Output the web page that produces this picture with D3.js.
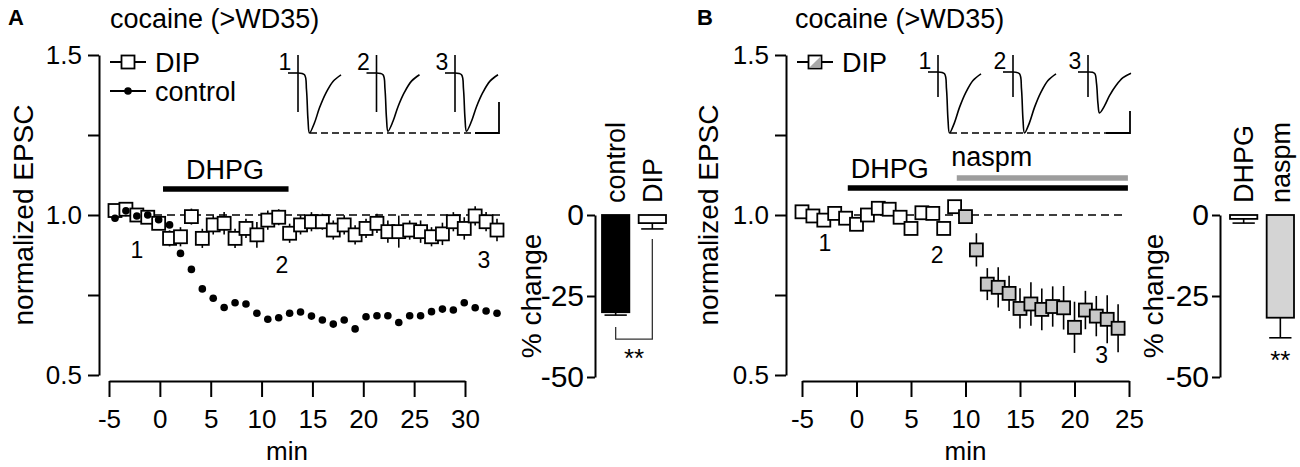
<!DOCTYPE html>
<html>
<head>
<meta charset="utf-8">
<script src="https://cdn.jsdelivr.net/npm/d3@7"></script>
<style>
  body { margin: 0; background: #fff; }
  svg text { font-family: "Liberation Sans", Arial, Helvetica, sans-serif; fill: #000; }
</style>
</head>
<body>
<svg id="fig" width="1300" height="467"></svg>
<script>
///////////////////// Data ////////////////////////
// panel A: time (min), normalized EPSC
var timeA = [-5,-4,-3,-2,-1,0,1,2,3,4,5,6,7,8,9,10,11,12,13,14,15,16,17,18,19,20,21,22,23,24,25,26,27,28,29,30];
var controlA = [0.99,1.013,0.997,1.0,0.985,0.969,0.88,0.83,0.769,0.74,0.711,0.726,0.722,0.693,0.674,0.679,0.693,0.697,
                0.684,0.672,0.659,0.672,0.644,0.682,0.685,0.685,0.664,0.685,0.685,0.698,0.706,0.703,0.726,0.71,0.70,0.693];
var dipA = [1.014,1.018,1.0,0.993,0.974,0.927,0.932,0.995,0.927,0.969,0.974,0.927,0.958,0.938,0.984,0.993,0.943,0.969,
            0.979,0.979,0.953,0.969,0.938,0.958,0.974,0.948,0.948,0.953,0.948,0.932,0.941,0.979,0.958,0.997,0.979,0.953];
var dipSemA = [0.02,0.022,0.02,0.02,0.02,0.025,0.03,0.025,0.03,0.03,0.035,0.03,0.03,0.04,0.03,0.025,0.03,0.03,
               0.03,0.025,0.03,0.03,0.03,0.03,0.03,0.035,0.05,0.03,0.035,0.03,0.035,0.03,0.035,0.03,0.03,0.035];
var dhpgA = [-0.6, 10.9];
var sampleTimeA = [-3, 10.3, 28.8];
var sampleYA = [0.89, 0.844, 0.86];
var traceAmpA = [1, 0.97, 0.97];

// panel B
var timeB = [-5,-4,-3,-2,-1,0,1,2,3,4,5,6,7,8,9,10,11,12,13,14,15,16,17,18,19,20,21,22,23,24];
var dipB = [1.01,0.997,0.984,1.005,0.99,0.971,1.0,1.021,1.018,0.993,0.958,1.007,1.005,0.958,1.026,
            0.995,0.891,0.784,0.774,0.755,0.708,0.722,0.705,0.714,0.71,0.649,0.703,0.684,0.674,0.646];
var dipSemB = [0.015,0.015,0.015,0.018,0.015,0.015,0.02,0.015,0.018,0.018,0.015,0.018,0.015,0.015,0.02,
               0.015,0.052,0.05,0.063,0.055,0.063,0.068,0.065,0.063,0.068,0.08,0.06,0.063,0.075,0.075];
var dhpgB = [-0.8, 24.9];
var naspmB = [9.2, 24.9];
var sampleTimeB = [-2.9, 7.4, 22.5];
var sampleYB = [0.912, 0.875, 0.5625];
var traceAmpB = [1, 1, 0.67];

// bar charts (% change)
var barCatsA = ["control", "DIP"];
var barValsA = [-30, -2.5];
var barSemA = [0.9, 1.8];
var barCatsB = ["DHPG", "naspm"];
var barValsB = [-1.2, -31.7];
var barSemB = [1.3, 6.2];

// EPSC trace template (ms after stim, fraction of peak)
var traceT = [0, 6.5, 8.5, 10, 11.5, 16.5, 21.5, 28, 35, 43];
var traceI = [0, -0.03, -0.28, -0.78, -1, -0.83, -0.58, -0.33, -0.14, -0.03];

var yTicksMain = [0.5, 0.75, 1, 1.25, 1.5];
var yTicksBar = [0, -25, -50];
var xTicksA = [-5, 0, 5, 10, 15, 20, 25, 30];
var xTicksB = [-5, 0, 5, 10, 15, 20, 25];
//////////////////////////////////////////////////

var svg = d3.select("#fig");
var grey = "#c8c8c8";
var sq = 13;
// plain hyphen for negatives, like the original
var plain = function (d) { return String(d); };

var styleAxis = function(sel, fs) {
    sel.selectAll("path, line").attr("stroke", "#000").attr("stroke-width", 2);
    sel.selectAll("text").attr("font-size", fs).attr("font-family", null);
    sel.attr("font-family", null);
}

/////////////// main time course panel ///////////////
var drawMain = function(p) {
    var g = svg.append("g");
    var y = d3.scaleLinear().domain([0.5, 1.5]).range([375, 55]);

    g.append("g").attr("transform", "translate(" + p.yAxisX + ",0)")
        .call(d3.axisLeft(y).tickValues(yTicksMain)
            .tickFormat(function (d) { return (d == 0.75 || d == 1.25) ? "" : d.toFixed(1); })
            .tickSize(11).tickSizeOuter(0).tickPadding(6))
        .call(styleAxis, 26);

    g.append("g").attr("transform", "translate(0,381)")
        .call(d3.axisBottom(p.xAxis).tickValues(p.xTicks).tickFormat(plain)
            .tickSize(16).tickSizeOuter(0).tickPadding(13))
        .call(styleAxis, 26);

    g.append("text").attr("x", d3.mean(p.xAxis.range())).attr("y", 460)
        .attr("text-anchor", "middle").attr("font-size", 26).text("min");

    g.append("text").attr("transform", "translate(" + p.ylabX + ",215) rotate(-90)")
        .attr("dy", "0.35em").attr("text-anchor", "middle").attr("font-size", 28).text("normalized EPSC");

    // title
    g.append("text").attr("x", p.letterX).attr("y", 25).attr("font-size", 22)
        .attr("font-weight", "bold").text(p.letter);
    g.append("text").attr("x", p.titleX).attr("y", 28).attr("font-size", 27).text("cocaine (>WD35)");

    // baseline
    var x = p.xData;
    g.append("line")
        .attr("x1", x(p.time[0])).attr("x2", x(p.time[p.time.length - 1]) + 8)
        .attr("y1", y(1)).attr("y2", y(1))
        .attr("stroke", "#000").attr("stroke-width", 1.6).attr("stroke-dasharray", "8,5");

    // drug bars
    p.drugs.forEach(function (d) {
        g.append("line").attr("x1", x(d.span[0])).attr("x2", x(d.span[1]))
            .attr("y1", d.y).attr("y2", d.y)
            .attr("stroke", d.color).attr("stroke-width", 5.5);
        g.append("text").attr("x", x(d.span[0]) + d.labelDx).attr("y", d.y - d.labelDy)
            .attr("text-anchor", d.anchor).attr("font-size", 27).text(d.name);
    });

    // error bars + squares
    g.selectAll(".err").data(p.dip).enter().append("line")
        .attr("x1", function (d, i) { return x(p.time[i]); })
        .attr("x2", function (d, i) { return x(p.time[i]); })
        .attr("y1", function (d, i) { return y(d + p.sem[i]); })
        .attr("y2", function (d, i) { return y(d - p.sem[i]); })
        .attr("stroke", "#000").attr("stroke-width", 1.6);

    g.selectAll(".sq").data(p.dip).enter().append("rect")
        .attr("x", function (d, i) { return x(p.time[i]) - sq / 2; })
        .attr("y", function (d) { return y(d) - sq / 2; })
        .attr("width", sq).attr("height", sq)
        .attr("fill", function (d, i) { return p.fillFn(p.time[i]); })
        .attr("stroke", "#000").attr("stroke-width", 1.8);

    if (p.control) {
        g.selectAll(".dot").data(p.control).enter().append("circle")
            .attr("cx", function (d, i) { return x(p.time[i]); })
            .attr("cy", function (d) { return y(d); })
            .attr("r", 3.8).attr("fill", "#000");
    }

    // sample labels 1 2 3
    g.selectAll(".smp").data(p.sampleT).enter().append("text")
        .attr("x", function (d) { return x(d); })
        .attr("y", function (d, i) { return y(p.sampleY[i]); })
        .attr("dy", "0.36em").attr("text-anchor", "middle").attr("font-size", 23)
        .text(function (d, i) { return i + 1; });

    // legend
    p.legend.forEach(function (L, i) {
        var ly = 62 + i * 29;
        g.append("line").attr("x1", L.x).attr("x2", L.x + 36).attr("y1", ly).attr("y2", ly)
            .attr("stroke", "#000").attr("stroke-width", 1.8);
        if (L.type == "dot") {
            g.append("circle").attr("cx", L.x + 18).attr("cy", ly).attr("r", 3.8).attr("fill", "#000");
        } else {
            g.append("rect").attr("x", L.x + 18 - sq / 2).attr("y", ly - sq / 2).attr("width", sq).attr("height", sq)
                .attr("fill", "#fff").attr("stroke", "#000").attr("stroke-width", 1.8);
            if (L.type == "half") {
                var c = L.x + 18, h = sq / 2 - 0.9;
                g.append("path").attr("d", "M" + (c + h) + "," + (ly - h) + "L" + (c + h) + "," + (ly + h) + "L" + (c - h) + "," + (ly + h) + "Z")
                    .attr("fill", "#a8a8a8");
            }
        }
        g.append("text").attr("x", L.x + 45).attr("y", ly).attr("dy", "0.36em")
            .attr("font-size", 27).text(L.name);
    });

    // inset EPSC traces
    var ins = p.inset;
    var ty = d3.scaleLinear().domain([-1, 0]).range([ins.base + ins.ampPx, ins.base]);
    p.traceAmp.forEach(function (amp, i) {
        var sx = ins.stim0 + i * ins.step;
        var tx = d3.scaleLinear().domain([0, 43]).range([sx, sx + 43]);
        var line = d3.line().x(function (d) { return tx(d); })
            .y(function (d, j) { return ty(traceI[j] * amp); })
            .curve(d3.curveCatmullRom);
        g.append("path").attr("d", line(traceT)).attr("fill", "none").attr("stroke", "#000").attr("stroke-width", 1.6);
        g.append("line").attr("x1", sx).attr("x2", sx).attr("y1", ins.artTop).attr("y2", ins.artBot)
            .attr("stroke", "#000").attr("stroke-width", 1.6);
        g.append("line").attr("x1", sx - 10).attr("x2", sx).attr("y1", ins.base).attr("y2", ins.base)
            .attr("stroke", "#000").attr("stroke-width", 1.6);
        g.append("text").attr("x", sx - 13).attr("y", ins.base - 11).attr("dy", "0.36em")
            .attr("text-anchor", "middle").attr("font-size", 23).text(i + 1);
    });
    var peakY = ty(-1);
    g.append("line").attr("x1", ins.stim0 + 12).attr("x2", ins.barX - 24).attr("y1", peakY).attr("y2", peakY)
        .attr("stroke", "#000").attr("stroke-width", 1.6).attr("stroke-dasharray", "7,4");
    g.append("path").attr("d", "M" + (ins.barX - 24) + "," + peakY + "H" + ins.barX + "V" + (peakY - ins.barH))
        .attr("fill", "none").attr("stroke", "#000").attr("stroke-width", 1.8);
}

/////////////// bar chart panel ///////////////
var drawBars = function(p) {
    var g = svg.append("g");
    var y = d3.scaleLinear().domain([-50, 0]).range([377, 215]);
    var x = d3.scaleBand().domain(p.cats).range(p.xRange).paddingInner(0.2);

    g.append("g").attr("transform", "translate(" + p.axisX + ",0)")
        .call(d3.axisLeft(y).tickValues(yTicksBar).tickFormat(plain)
            .tickSize(8).tickSizeOuter(0).tickPadding(3))
        .call(styleAxis, 30);

    g.append("text").attr("transform", "translate(" + p.labX + ",296) rotate(-90)")
        .attr("dy", "0.35em").attr("text-anchor", "middle").attr("font-size", 28).text("% change");

    var bw = x.bandwidth();
    p.vals.forEach(function (v, i) {
        var cx = x(p.cats[i]) + bw / 2;
        var low = y(v - p.sem[i]);
        g.append("line").attr("x1", cx).attr("x2", cx).attr("y1", y(v)).attr("y2", low)
            .attr("stroke", "#000").attr("stroke-width", 1.6);
        g.append("line").attr("x1", cx - bw * 0.38).attr("x2", cx + bw * 0.38).attr("y1", low).attr("y2", low)
            .attr("stroke", "#000").attr("stroke-width", 1.6);
        g.append("rect").attr("x", x(p.cats[i]) + 1).attr("y", y(0)).attr("width", bw - 2).attr("height", y(v) - y(0))
            .attr("fill", p.fills[i]).attr("stroke", "#000").attr("stroke-width", 1.8);
        g.append("text").attr("transform", "translate(" + cx + ",203) rotate(-90)")
            .attr("dy", "0.36em").attr("font-size", 27).text(p.cats[i]);
    });

    if (p.bracket) {
        var c0 = x(p.cats[0]) + bw / 2, c1 = x(p.cats[1]) + bw / 2;
        var b0 = y(p.vals[0] - p.sem[0]) + 12, b1 = y(p.vals[1] - p.sem[1]) + 10;
        g.append("path").attr("d", "M" + c0 + "," + b0 + "V" + (b0 + 12) + "H" + c1 + "V" + b1)
            .attr("fill", "none").attr("stroke", "#333").attr("stroke-width", 1.3);
        g.append("text").attr("x", (c0 + c1) / 2).attr("y", b0 + 40).attr("text-anchor", "middle")
            .attr("font-size", 26).text("**");
    } else {
        var cS = x(p.cats[1]) + bw / 2;
        g.append("text").attr("x", cS).attr("y", y(p.vals[1] - p.sem[1]) + 31).attr("text-anchor", "middle")
            .attr("font-size", 26).text("**");
    }
}

/////////////// Panel A ///////////////
drawMain({
    letter: "A", letterX: 8, titleX: 110, yAxisX: 99, ylabX: 23,
    xAxis: d3.scaleLinear().domain([-5, 30]).range([109, 465]),
    xData: d3.scaleLinear().domain([-5, 30]).range([115, 497]),
    xTicks: xTicksA,
    time: timeA, dip: dipA, sem: dipSemA, control: controlA,
    fillFn: function () { return "#fff"; },
    drugs: [{name: "DHPG", span: dhpgA, y: 189, color: "#000", labelDx: 62, labelDy: 10, anchor: "middle"}],
    sampleT: sampleTimeA, sampleY: sampleYA,
    legend: [{name: "DIP", type: "square", x: 110}, {name: "control", type: "dot", x: 110}],
    traceAmp: traceAmpA,
    inset: {stim0: 298, step: 78.5, base: 73, ampPx: 60, artTop: 55, artBot: 112, barX: 499, barH: 31}
});

drawBars({
    cats: barCatsA, vals: barValsA, sem: barSemA, xRange: [601, 667], axisX: 595, labX: 531,
    fills: ["#000", "#fff"], bracket: true
});

/////////////// Panel B ///////////////
drawMain({
    letter: "B", letterX: 697, titleX: 795, yAxisX: 786, ylabX: 708,
    xAxis: d3.scaleLinear().domain([-5, 25]).range([802, 1129]),
    xData: d3.scaleLinear().domain([-5, 25]).range([802, 1129]),
    xTicks: xTicksB,
    time: timeB, dip: dipB, sem: dipSemB, control: null,
    fillFn: function (t) { return t >= 10 ? grey : "#fff"; },
    drugs: [{name: "DHPG", span: dhpgB, y: 188, color: "#000", labelDx: 42, labelDy: 10, anchor: "middle"},
            {name: "naspm", span: naspmB, y: 178, color: "#9d9d9d", labelDx: 35, labelDy: 12, anchor: "middle"}],
    sampleT: sampleTimeB, sampleY: sampleYB,
    legend: [{name: "DIP", type: "half", x: 797}],
    traceAmp: traceAmpB,
    inset: {stim0: 938, step: 75, base: 72, ampPx: 61, artTop: 55, artBot: 97, barX: 1130, barH: 22}
});

drawBars({
    cats: barCatsB, vals: barValsB, sem: barSemB, xRange: [1229, 1295], axisX: 1220, labX: 1153,
    fills: ["#fff", "#d4d4d4"], bracket: false
});
</script>
</body>
</html>
